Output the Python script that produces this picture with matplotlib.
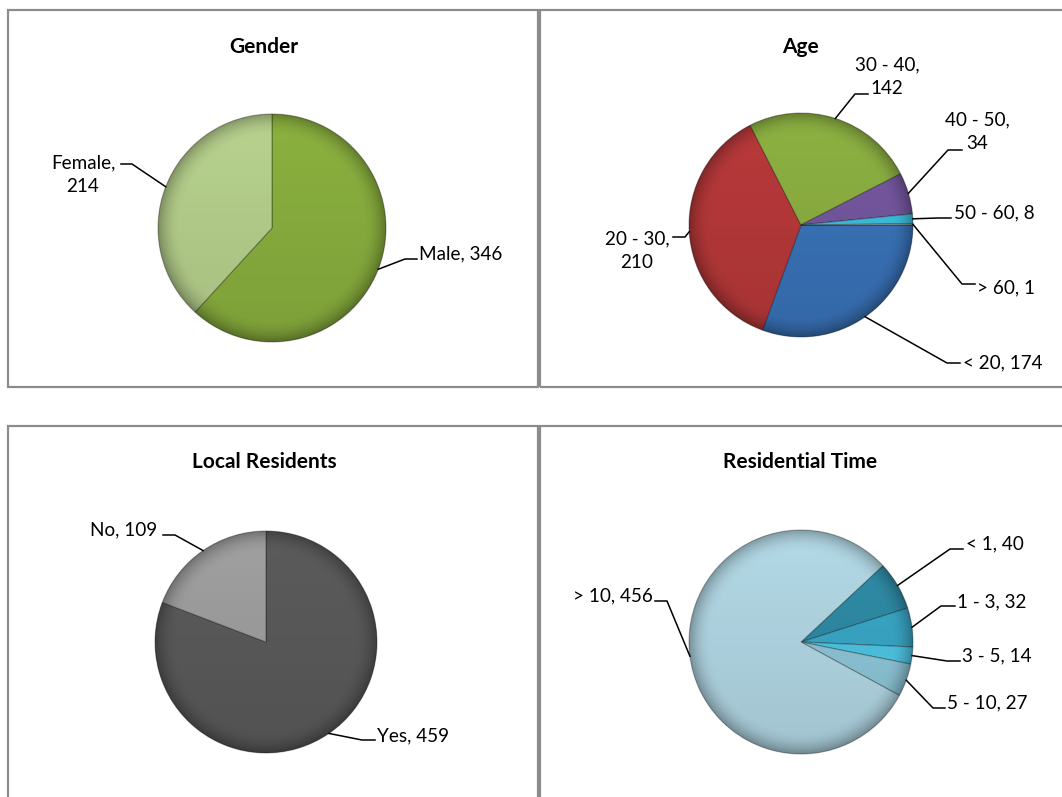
import numpy as np
import matplotlib
matplotlib.use("Agg")
import matplotlib.pyplot as plt
from matplotlib.patches import Rectangle, Circle

plt.rcParams['font.family'] = ['Lato', 'DejaVu Sans']

# data
gender_labels = ['Male', 'Female']
gender_values = [346, 214]
gender_colors = ['#8bb13f', '#b8d28e']

age_labels = ['< 20', '20 - 30', '30 - 40', '40 - 50', '50 - 60', '> 60']
age_values = [174, 210, 142, 34, 8, 1]
age_colors = ['#3a74ba', '#b9393a', '#8db142', '#7658a0', '#3ec0e0', '#a7c9d2']

local_labels = ['Yes', 'No']
local_values = [459, 109]
local_colors = ['#5b5b5b', '#a0a0a0']

res_labels = ['< 1', '1 - 3', '3 - 5', '5 - 10', '> 10']
res_values = [40, 32, 14, 27, 456]
res_colors = ['#2f8ca7', '#3aa8c8', '#4fc7e6', '#8ec7d9', '#b3d9e6']

W, H = 1062, 797
LABEL_SIZE = 13.6
TITLE_SIZE = 15

fig = plt.figure(figsize=(W / 100, H / 100), dpi=100)
ax = fig.add_axes([0, 0, 1, 1])


def Y(y):
    # picture rows go down, axes y goes up
    return H - y


def shade(cx, cy, r):
    n = 300
    yy, xx = np.mgrid[1:-1:n * 1j, -1:1:n * 1j]
    d = np.hypot(xx, yy)
    rim = np.clip((d - 0.80) / 0.20, 0, 1)
    rgba = np.zeros((n, n, 4))
    rgba[..., 3] = 0.10 * (1 - yy) / 2 + 0.28 * rim ** 2
    im = ax.imshow(rgba, extent=[cx - r, cx + r, cy - r, cy + r], origin='upper',
                   zorder=3, interpolation='bilinear')
    im.set_clip_path(Circle((cx, cy), r, transform=ax.transData))


def pie_chart(title, title_xy, labels, values, colors, center, r, start, layout, breaks=()):
    cx, cy = center[0], Y(center[1])
    wedges, _ = ax.pie(values, colors=colors, startangle=start, counterclock=False,
                       center=(cx, cy), radius=r,
                       wedgeprops=dict(edgecolor=(0, 0, 0, 0.3), linewidth=0.8))
    for w in wedges:
        w.set_zorder(2)
    shade(cx, cy, r)
    ax.text(title_xy[0], Y(title_xy[1]), title, ha='center', va='baseline',
            fontsize=TITLE_SIZE, fontweight='bold')
    for i, (w, lab, val) in enumerate(zip(wedges, labels, values)):
        sep = ',\n' if lab in breaks else ', '
        tx, ty, ha, (x0, x1, sy) = layout[i]
        mid = np.deg2rad((w.theta1 + w.theta2) / 2)
        ex, ey = w.center[0] + r * np.cos(mid), w.center[1] + r * np.sin(mid)
        ax.plot([ex, x0, x1], [ey, Y(sy), Y(sy)], color='black', lw=1.1, zorder=4)
        ax.text(tx, Y(ty), f'{lab}{sep}{val}', ha=ha, va='baseline', fontsize=LABEL_SIZE,
                linespacing=1.5, multialignment='center', zorder=5)


# panel frames
for x0, y0, x1, y1 in [(8, 10, 538, 387), (540, 10, 1075, 387),
                       (8, 426, 538, 810), (540, 426, 1075, 810)]:
    ax.add_patch(Rectangle((x0, Y(y1)), x1 - x0, y1 - y0, fill=False,
                           edgecolor='#8c8c8c', lw=1.6, zorder=1))

# label text position (x, baseline), alignment, leader segment (x_from, x_to, y)
pie_chart('Gender', (264, 53), gender_labels, gender_values, gender_colors,
          (272, 228), 114, 90,
          [(419, 259, 'left', (405, 417, 259)),
           (83, 192, 'center', (132, 121, 164))],
          breaks=('Female',))

pie_chart('Age', (800, 53), age_labels, age_values, age_colors,
          (801, 225), 112, 0,
          [(963, 368, 'left', (947, 960, 363)),
           (637, 268, 'center', (685, 673, 237)),
           (887, 94, 'center', (855, 868, 94)),
           (977, 149, 'center', (948, 962, 150)),
           (954, 218, 'left', (938, 951, 218)),
           (977, 293, 'left', (962, 975, 284))],
          breaks=('20 - 30', '30 - 40', '40 - 50'))

pie_chart('Local Residents', (264, 468), local_labels, local_values, local_colors,
          (266, 642), 111, 90,
          [(377, 741, 'left', (362, 375, 740)),
           (157, 535, 'right', (175, 163, 535))])

pie_chart('Residential Time', (800, 468), res_labels, res_values, res_colors,
          (801, 642), 112, 43,
          [(966, 549, 'left', (950, 963, 549)),
           (957, 607, 'left', (941, 955, 606)),
           (962, 661, 'left', (947, 960, 661)),
           (947, 708, 'left', (933, 945, 708)),
           (653, 601, 'right', (667, 655, 601))])

ax.set_xlim(0, W)
ax.set_ylim(0, H)
ax.set_aspect('auto')
ax.axis('off')

fig.savefig('out.png', dpi=100, facecolor='white')
